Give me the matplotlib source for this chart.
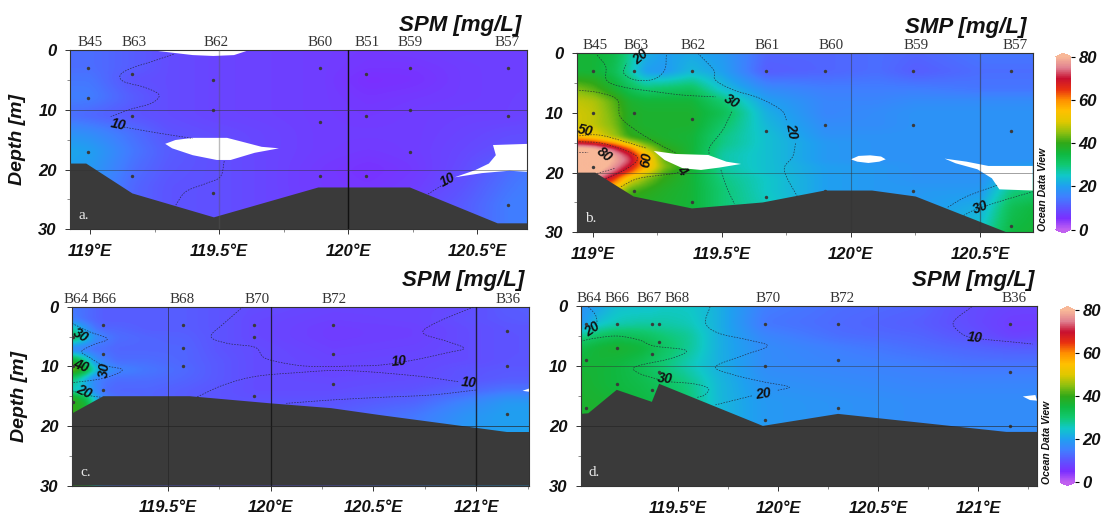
import numpy as np
import matplotlib
matplotlib.use("Agg")
import matplotlib.pyplot as plt
from matplotlib.colors import LinearSegmentedColormap, Normalize
from matplotlib.cm import ScalarMappable

W, H = 1101, 515

# ---------- colour scale ----------
cmap_vals = [0, 5, 10, 15, 20, 25, 30, 35, 40, 45, 50, 55, 60, 65, 70, 75, 80]
cmap_cols = ['#c060f0', '#7b2fff', '#5c55ff', '#3f80ff', '#1fa0f0', '#10c8c8', '#10c870',
             '#10b840', '#30a818', '#90c010', '#e0c800', '#ffc000', '#ff9000', '#e83010',
             '#c81030', '#e08090', '#f8b898']

# ---------- panel a ----------
a_lons = [118.92, 119.0, 119.17, 119.3, 119.48, 119.7, 119.9, 120.08, 120.25, 120.45, 120.63, 120.7]
a_deps = [0, 3, 5, 8, 11, 14, 17, 20, 23, 26, 30]
a_vals = [[13, 13, 11, 9, 8, 7.5, 7, 6.5, 7, 7.5, 7.5, 7.5],
          [13, 13, 11, 9, 8, 7.5, 7, 6, 6, 7, 7.5, 7.5],
          [14, 14, 9.5, 9, 8, 7.5, 7, 5, 5.5, 7, 7.5, 7.5],
          [15, 15, 11, 9, 8, 7.5, 7, 6, 6.5, 7, 7.5, 7.5],
          [13, 12, 10, 9, 8, 7.5, 7, 6.5, 7, 7.5, 7.5, 8],
          [18, 17, 13, 10, 9, 8, 7, 7, 7, 8, 9, 9],
          [21, 20, 14, 11, 9.5, 8, 7, 6.5, 7, 8.5, 10, 10],
          [20, 19, 13, 10.5, 9.5, 8, 6.5, 5.5, 6.5, 9, 13, 14],
          [19, 18, 12, 10, 9.5, 8, 6.5, 6, 7, 10, 14, 15],
          [18, 17, 12, 10, 9.5, 8, 7, 7, 8, 11, 15, 15],
          [18, 17, 12, 10, 9.5, 8, 7, 7, 8, 11, 15, 15]]
a_bot_lon = [118.92, 118.985, 119.164, 119.48, 119.885, 120.24, 120.58, 120.70]
a_bot_dep = [19, 19, 24, 28, 23, 23, 29, 29]
a_st_lon = [118.99, 119.164, 119.478, 119.89, 120.07, 120.24, 120.62]
a_st_dep = [[3, 8, 17], [4, 11, 21], [5, 10, 24], [3, 12, 21], [4, 11, 21], [3, 10, 17], [3, 11, 26]]
a_names = ['B45', 'B63', 'B62', 'B60', 'B51', 'B59', 'B57']
a_name_lon = [119.0, 119.17, 119.487, 119.89, 120.075, 120.24, 120.616]
a_holes = [([119.231, 119.318, 119.398, 119.478, 119.558, 119.618], [0, 0.45, 0.85, 1.0, 0.85, 0]),
           ([119.291, 119.331, 119.398, 119.531, 119.585, 119.665, 119.732, 119.638, 119.545, 119.491, 119.398, 119.318],
            [15.7, 15.06, 14.7, 14.7, 15.3, 16.2, 16.45, 17.2, 18.4, 18.4, 17.6, 16.45]),
           ([120.70, 120.562, 120.573, 120.546, 120.493, 120.413, 120.519, 120.626, 120.70],
            [15.7, 15.9, 17.6, 19, 20.1, 21.3, 20.6, 20.2, 20.4])]
a_lines = [([119.324, 119.238, 119.158, 119.117, 119.131, 119.211, 119.267, 119.238, 119.158, 119.08],
            [0.7, 1.95, 3.07, 4.18, 5.3, 6.25, 7.5, 8.9, 9.9, 11.15]),
           ([119.131, 119.251, 119.398], [12.9, 13.8, 14.8]),
           ([119.52, 119.505, 119.451, 119.371, 119.331], [18.6, 21.2, 22.3, 23.7, 26]),
           ([120.31, 120.366], [24.1, 22.6])]
a_labels = [(119.107, 12.5, '10', -12), (120.386, 21.75, '10', 28)]

# ---------- panel b ----------
b_lons = [118.94, 119.0, 119.08, 119.14, 119.2, 119.27, 119.38, 119.5, 119.67, 119.9, 120.1, 120.25, 120.5, 120.62, 120.7]
b_deps = [0, 3, 6, 8, 10, 12, 14, 15, 16, 17, 18, 19, 20, 21, 23, 26, 30]
b_vals = [[36, 36, 34, 28, 22, 20, 21, 19, 12, 12, 13, 12, 14, 14, 14],
          [36, 36, 33, 27, 20, 19, 23, 20, 11, 12, 13, 11, 13, 13, 13],
          [44, 42, 37, 33, 30, 31, 32, 24, 17, 15, 15, 15, 14, 14, 14],
          [48, 47, 42, 37, 36, 36, 36, 30, 20, 16, 16, 17, 17, 17, 17],
          [49, 48, 43, 38, 37, 37, 37, 33, 22, 16, 17, 18, 18, 18, 18],
          [49, 48, 44, 38, 37, 37, 37, 31, 23, 17, 17, 18, 18, 18, 18],
          [55, 52, 46, 40, 38, 37, 36, 29, 24, 18, 18, 18, 18, 18, 18],
          [68, 66, 58, 48, 42, 38, 36, 29, 24, 19, 18, 18, 18, 18, 18],
          [82, 80, 72, 62, 48, 40, 36, 28, 24, 19, 18, 18, 18, 18, 18],
          [85, 84, 78, 70, 56, 42, 36, 27, 24, 19, 18, 18, 18, 18, 18],
          [85, 85, 79, 73, 58, 43, 37, 27, 24, 19, 18, 18, 18, 18, 18],
          [85, 85, 77, 69, 58, 45, 37, 27, 24, 20, 19, 18, 18, 19, 20],
          [85, 82, 73, 64, 52, 42, 36, 28, 24, 20, 19, 18, 18, 20, 22],
          [80, 78, 66, 52, 45, 40, 36, 29, 25, 20, 19, 18, 18, 23, 25],
          [70, 65, 52, 42, 40, 38, 36, 30, 25, 20, 19, 19, 19, 29, 30],
          [40, 40, 38, 37, 37, 37, 36, 30, 26, 20, 19, 19, 22, 33, 35],
          [40, 40, 38, 37, 37, 37, 36, 30, 26, 20, 19, 19, 25, 35, 36]]
b_bot_lon = [118.938, 119.011, 119.159, 119.385, 119.659, 119.899, 120.082, 120.251, 120.603, 120.704]
b_bot_dep = [20, 20, 24, 26, 25, 23, 23, 24, 30, 30]
b_st_lon = [119.0, 119.159, 119.385, 119.673, 119.899, 120.241, 120.62]
b_st_dep = [[3, 10, 19], [3, 10, 23], [3, 11, 25], [3, 13, 24], [3, 12, 23], [3, 12, 23], [3, 13, 29]]
b_names = ['B45', 'B63', 'B62', 'B61', 'B60', 'B59', 'B57']
b_name_lon = [119.011, 119.169, 119.389, 119.677, 119.924, 120.251, 120.634]
b_holes = [([119.237, 119.321, 119.448, 119.518, 119.575, 119.49, 119.42, 119.349, 119.279],
            [16.37, 16.87, 17.04, 18.16, 18.55, 19.16, 19.55, 19.27, 17.88]),
           ([120, 120.03, 120.075, 120.117, 120.135, 120.11, 120.068, 120.025],
            [17.77, 17.2, 17.1, 17.3, 17.77, 18.16, 18.38, 18.16]),
           ([120.363, 120.448, 120.532, 120.704, 120.704, 120.575, 120.546, 120.49, 120.406],
            [17.65, 18.16, 18.88, 18.88, 23, 22.8, 20.95, 19.44, 18.44])]
b_lines = [([119.018, 119.051, 119.056, 119.124, 119.237, 119.349, 119.476], [0.3, 2.2, 4.6, 5.7, 6.4, 7, 7.3]),
           ([119.539, 119.504, 119.455, 119.451], [9.8, 12.85, 15.6, 17]),
           ([119.497, 119.518, 119.549], [19.55, 22.3, 25.25]),
           ([119.408, 119.469, 119.476, 119.546, 119.645, 119.73, 119.751], [0, 2.8, 4.5, 6.15, 7.5, 9.5, 11.2]),
           ([119.786, 119.775, 119.744, 119.751, 119.793], [15.1, 17.3, 19, 20.7, 24]),
           ([118.938, 119.025, 119.096, 119.107, 119.166, 119.251, 119.321], [6.15, 6.6, 7.8, 10.6, 12.85, 15.1, 16.65]),
           ([119.286, 119.279, 119.237, 119.166, 119.121, 119.131], [0.3, 2.8, 4.35, 4.47, 3.35, 1.7]),
           ([118.938, 119.025, 119.124, 119.208], [13.85, 13.7, 14.8, 15.9]),
           ([119.11, 119.18, 119.321, 119.349], [22.35, 20.95, 20.1, 19.3]),
           ([118.938, 119.039, 119.152, 119.173, 119.124, 119.046], [14.8, 15.1, 16.75, 17.9, 19.55, 21.1]),
           ([118.938, 118.983], [16.6, 16.65]),
           ([119.085, 119.046, 119.011], [19.3, 19.8, 20.2]),
           ([120.375, 120.448, 120.568], [25.8, 24, 22.07]),
           ([120.427, 120.479, 120.575, 120.704], [27.4, 26.25, 24.85, 23.2])]
b_labels = [(119.187, 0.6, '20', 40), (119.539, 8.1, '30', -30), (119.769, 13, '20', -80), (118.972, 13, '50', -12),
            (119.345, 19.7, '4', -50), (119.208, 17.8, '60', 82), (119.044, 17, '80', -38), (120.504, 25.8, '30', 22)]

# ---------- panel c ----------
c_lons = [119.04, 119.1, 119.14, 119.19, 119.25, 119.4, 119.58, 119.75, 119.92, 120.3, 120.7, 120.95, 121.15, 121.26]
c_deps = [0, 2, 3.5, 5, 7, 9, 10.5, 12, 14, 15, 16, 18, 21, 30]
c_vals = [[14, 13, 12, 11, 11, 11, 11, 10, 9, 8, 8, 9, 11, 11],
          [15, 13, 12, 11, 11, 11, 11, 10, 8.5, 7.5, 8, 9.5, 10.5, 11],
          [27, 18, 14, 12, 12, 11, 11, 10, 8.5, 7, 7.5, 9, 10, 10],
          [33, 25, 18, 15, 13, 12, 11.5, 10, 8.5, 7, 7.5, 9, 10, 10],
          [15, 14, 13, 13, 12, 12, 12, 10, 9, 7.5, 8, 9, 10, 10],
          [38, 28, 19, 15, 13, 13, 12, 10.5, 9, 8, 8.5, 9, 10, 10],
          [44, 36, 26, 20, 16, 14, 12.5, 10.5, 9, 8, 8.5, 10, 10.5, 10.5],
          [30, 22, 16, 14, 13, 13, 12, 10.5, 9, 8.5, 9, 10, 11, 11],
          [25, 22, 17, 13, 12, 12, 11, 10, 9, 9, 10, 12, 14, 14],
          [38, 32, 22, 15, 13, 12, 11, 10, 9.5, 9.5, 11, 14, 17, 17],
          [40, 36, 26, 16, 13, 12, 11, 10, 10, 10, 12, 16, 19, 19],
          [40, 38, 26, 16, 13, 12, 11, 10, 10, 11, 14, 18, 20, 20],
          [40, 38, 26, 16, 13, 12, 11, 10, 10, 11, 15, 19, 20, 20],
          [40, 38, 26, 16, 13, 12, 11, 10, 10, 11, 15, 19, 20, 20]]
c_bot_lon = [119.034, 119.186, 119.606, 120.0, 120.294, 120.529, 120.998, 121.149, 121.258]
c_bot_dep = [17.9, 15, 15, 16.2, 17, 18.15, 20.3, 21, 21]
c_st_lon = [119.04, 119.186, 119.572, 119.919, 120.302, 121.149]
c_st_dep = [[5, 10, 16], [3, 8, 14], [3, 7, 10], [3, 5, 15], [3, 8, 13], [4, 10, 18]]
c_names = ['B64', 'B66', 'B68', 'B70', 'B72', 'B36']
c_name_lon = [119.052, 119.191, 119.569, 119.933, 120.31, 121.153]
c_holes = [([121.225, 121.258, 121.258], [14.1, 13.7, 14.25])]
c_lines = [([119.034, 119.119, 119.206, 119.136, 119.081, 119.119, 119.186, 119.279, 119.186, 119.034],
            [2.8, 4.2, 5.4, 6.4, 7.5, 8.5, 9.8, 10.6, 12, 12.75]),
           ([119.034, 119.102, 119.178], [14.1, 14.8, 15.2]),
           ([119.866, 119.773, 119.71, 119.79, 119.924, 119.975, 120.126, 120.26, 120.378, 120.529, 120.696, 120.847,
             120.94, 120.864, 120.743, 120.797, 120.99],
            [0, 2.8, 5, 6.15, 6.8, 8.66, 9.8, 10.05, 9.95, 9.8, 8.94, 7.8, 7, 5.87, 4.47, 2.8, 0]),
           ([119.643, 119.773, 119.924, 120.126, 120.361, 120.696, 120.914], [15.1, 13.1, 11.7, 11.06, 10.7, 11.56, 12.57]),
           ([120.998, 120.78, 120.529, 120.294, 120.076], [13.97, 14.8, 15.2, 15.64, 16.2])]
c_labels = [(119.077, 4.75, '30', -30), (119.077, 10, '40', -20), (119.191, 10.6, '30', 85), (119.094, 14.25, '20', -25),
            (120.624, 9.2, '10', 5), (120.965, 12.7, '10', -5)]

# ---------- panel d ----------
d_lons = [119.01, 119.09, 119.19, 119.3, 119.37, 119.41, 119.55, 119.7, 119.93, 120.3, 120.7, 120.95, 121.17, 121.3]
d_deps = [0, 3, 5, 7, 10, 13, 16, 20, 30]
d_vals = [[18, 20, 24, 24, 24, 25, 25, 22, 15, 13, 12, 9, 8, 8],
          [18, 24, 26, 27, 27, 27, 26, 22, 14, 12.5, 11, 9, 7, 7],
          [28, 31, 33, 32, 31, 30, 28, 22, 16, 13, 12, 10, 7.5, 8],
          [34, 36, 37, 36, 34, 32, 28, 22, 17, 15, 13, 12, 11, 11],
          [36, 36, 35, 33, 31, 30, 26, 22, 17, 16, 15, 14, 14, 14],
          [37, 36, 35, 34, 33, 32, 29, 23, 18, 17, 16, 16, 16, 16],
          [37, 37, 36, 35, 34, 33, 30, 23, 19, 18, 17, 17, 17, 17],
          [37, 37, 36, 35, 34, 33, 30, 23, 19, 18, 17, 17, 17, 17],
          [37, 37, 36, 35, 34, 33, 30, 23, 19, 18, 17, 17, 17, 17]]
d_bot_lon = [119.013, 119.051, 119.193, 119.369, 119.405, 119.924, 120.3, 121.142, 121.295]
d_bot_dep = [18, 17.9, 14, 16, 13, 20, 18, 21, 21]
d_st_lon = [119.042, 119.193, 119.371, 119.405, 119.933, 120.3, 121.16]
d_st_dep = [[3, 9, 17], [3, 7, 13], [3, 8, 14], [3, 6, 11], [3, 10, 19], [3, 9, 17], [3, 11, 20]]
d_names = ['B64', 'B66', 'B67', 'B68', 'B70', 'B72', 'B36']
d_name_lon = [119.055, 119.196, 119.356, 119.496, 119.951, 120.318, 121.178]
d_holes = [([121.224, 121.287, 121.295, 121.26], [15.1, 14.86, 15.8, 15.7])]
d_lines = [([119.051, 119.087, 119.096], [0.17, 1.55, 2.94]),
           ([119.013, 119.087, 119.196, 119.305, 119.378, 119.524, 119.533, 119.451, 119.287, 119.305, 119.415],
            [5.9, 5.4, 5.05, 5.7, 6.7, 7.27, 7.9, 8.9, 10.15, 11.26, 12.4]),
           ([119.451, 119.578, 119.651, 119.633, 119.596], [12.65, 13, 13.75, 14.86, 15.25]),
           ([119.66, 119.638, 119.705, 119.851, 119.947, 119.833, 119.687, 119.778, 119.924, 120.055, 119.996],
            [0.17, 2.94, 4.6, 5.7, 6.7, 8.2, 10.15, 11.5, 12.65, 13.5, 14.1]),
           ([119.869, 119.687], [15, 16.5]),
           ([120.969, 120.878, 120.905, 120.96, 121.033, 121.16, 121.273], [0.17, 2.66, 4.33, 5.27, 5.6, 6, 6.38])]
d_labels = [(119.073, 3.9, '20', 35), (119.436, 12.2, '30', -5), (119.924, 14.7, '20', 8), (120.982, 5.27, '10', -5)]

titles = ['SPM [mg/L]', 'SMP [mg/L]', 'SPM [mg/L]', 'SPM [mg/L]']
panel_tags = ['a.', 'b.', 'c.', 'd.']

# ---------- drawing ----------
cmap = LinearSegmentedColormap.from_list('odv', [(v / 80, c) for v, c in zip(cmap_vals, cmap_cols)])
cmap.set_under(cmap_cols[0])
cmap.set_over(cmap_cols[-1])
norm = Normalize(0, 80)

plt.rcParams['font.family'] = ['Liberation Sans', 'DejaVu Sans']
TICK = dict(fontsize=12, fontweight='bold', fontstyle='italic', color='#111111')
fig = plt.figure(figsize=(W / 100, H / 100), dpi=100, facecolor='white')


def pix_axes(x0, x1, y0, y1):
    return fig.add_axes([x0 / W, 1 - y1 / H, (x1 - x0) / W, (y1 - y0) / H])


def gridded(lons, deps, vals, xlim, sig_y, sig_x):
    vals = np.array(vals, float)
    fx = np.linspace(xlim[0], xlim[1], 460)
    fy = np.linspace(0, 30, 180)
    tmp = np.array([np.interp(fx, lons, row) for row in vals])
    out = np.array([np.interp(fy, deps, col) for col in tmp.T]).T
    for axis, sig in ((0, sig_y), (1, sig_x)):
        k = np.exp(-0.5 * (np.arange(-12, 13) / sig) ** 2)
        k /= k.sum()
        pad = [(0, 0), (0, 0)]
        pad[axis] = (12, 12)
        out = np.apply_along_axis(lambda m: np.convolve(m, k, mode='valid'), axis, np.pad(out, pad, mode='edge'))
    return out


def smooth_line(x, y):
    """Catmull-Rom pass so traced contour lines stay curved."""
    p = np.column_stack([x, y])
    if len(p) < 3:
        return p[:, 0], p[:, 1]
    p = np.vstack([2 * p[0] - p[1], p, 2 * p[-1] - p[-2]])
    t = np.linspace(0, 1, 12, endpoint=False)[:, None]
    seg = []
    for i in range(1, len(p) - 2):
        a, b, c, d = p[i - 1], p[i], p[i + 1], p[i + 2]
        seg.append(0.5 * (2 * b + (c - a) * t + (2 * a - 5 * b + 4 * c - d) * t ** 2 + (3 * b - a - 3 * c + d) * t ** 3))
    seg.append(p[-2][None])
    s = np.vstack(seg)
    return s[:, 0], s[:, 1]


def panel(box, xlim, major, major_text, lons, deps, vals, bot_lon, bot_dep, st_lon, st_dep, names, name_lon,
          holes, lines, labels, vgrid, hgrid, title, title_xy, tag, ylabel, sig=(3.0, 5.0)):
    ax = pix_axes(*box)
    ax.imshow(gridded(lons, deps, vals, xlim, *sig), extent=[xlim[0], xlim[1], 30, 0], aspect='auto', cmap=cmap, norm=norm,
              interpolation='bilinear', zorder=1)
    for hx, hy in holes:
        ax.fill(hx, hy, color='white', lw=0, zorder=2)
    for lx, ly in lines:
        sx, sy = smooth_line(lx, ly)
        ax.plot(sx, sy, color='#222233', lw=0.5, alpha=0.85, ls=(0, (2.2, 1.8)), zorder=3)
    for lx, ly, s, rot in labels:
        ax.text(lx, ly, s, rotation=rot, ha='center', va='center', fontsize=10, fontweight='bold', fontstyle='italic',
                color='#111111', zorder=4)
    ax.fill(list(bot_lon) + [xlim[1], xlim[0]], list(bot_dep) + [30, 30], color='#3a3a3a', lw=0, zorder=5)
    ax.scatter(np.repeat(st_lon, [len(d) for d in st_dep]), np.concatenate(st_dep), s=6, color='#3a3a3a', lw=0, zorder=6)
    for v, c, lw in vgrid:
        ax.axvline(v, color=c, lw=lw, zorder=7)
    for v, c, lw in hgrid:
        ax.axhline(v, color=c, lw=lw, zorder=7)
    trans = ax.get_xaxis_transform()
    for nm, lx in zip(names, name_lon):
        ax.text(lx, 1.005, nm, transform=trans, ha='center', va='bottom', fontsize=10.8, family='Liberation Serif',
                color='#333333', clip_on=False)
    ax.text(0.018, 0.075, tag, transform=ax.transAxes, fontsize=11, family='Liberation Serif', color='#e8e8e8', zorder=8,
            va='center')
    ax.set_xlim(*xlim)
    ax.set_ylim(30, 0)
    ax.set_xticks(major)
    ax.set_xticklabels(major_text, **TICK)
    ax.set_xticks([m + 0.25 for m in major if m + 0.25 < xlim[1]], minor=True)
    ax.set_yticks([0, 10, 20, 30])
    ax.set_yticklabels(['0', '10', '20', '30'], **TICK)
    ax.set_yticks([5, 15, 25], minor=True)
    ax.tick_params(axis='both', which='major', length=3.5, width=0.7, color='#333333')
    ax.tick_params(axis='both', which='minor', length=2, width=0.6, color='#777777')
    ax.tick_params(axis='x', which='major', pad=7)
    ax.tick_params(axis='y', which='major', pad=6)
    for s in ax.spines.values():
        s.set_linewidth(0.8)
        s.set_color('#333333')
    fig.text(title_xy[0] / W, 1 - title_xy[1] / H, title, ha='right', va='baseline', fontsize=16, fontweight='bold',
             fontstyle='italic', color='#111111')
    if ylabel:
        fig.text(ylabel / W, 1 - (box[2] + box[3]) / 2 / H, 'Depth [m]', rotation=90, ha='center', va='center', fontsize=14,
                 fontweight='bold', fontstyle='italic', color='#111111')
    return ax


def lab(v):
    return [f'{x:g}°E' for x in v]


panel((70, 527.3, 50, 229.3), (118.922, 120.695), [119, 119.5, 120, 120.5], lab([119, 119.5, 120, 120.5]),
      a_lons, a_deps, a_vals, a_bot_lon, a_bot_dep, a_st_lon, a_st_dep, a_names, a_name_lon, a_holes, a_lines, a_labels,
      [(119.5, '#55555566', 1.0), (120, '#111111', 1.0)], [(10, '#33333399', 0.6), (20, '#33333388', 0.6)],
      titles[0], (521.5, 31), panel_tags[0], 18)
panel((576.5, 1032.7, 53.3, 232.3), (118.938, 120.704), [119, 119.5, 120, 120.5], lab([119, 119.5, 120, 120.5]),
      b_lons, b_deps, b_vals, b_bot_lon, b_bot_dep, b_st_lon, b_st_dep, b_names, b_name_lon, b_holes, b_lines, b_labels,
      [(120, '#33333377', 0.8), (120.5, '#33333388', 0.9)], [(20, '#33333388', 0.6)],
      titles[1], (1026.5, 33), panel_tags[1], None, sig=(1.8, 3.0))
panel((72, 529.3, 306.7, 485.7), (119.034, 121.258), [119.5, 120, 120.5, 121], lab([119.5, 120, 120.5, 121]),
      c_lons, c_deps, c_vals, c_bot_lon, c_bot_dep, c_st_lon, c_st_dep, c_names, c_name_lon, c_holes, c_lines, c_labels,
      [(119.5, '#22222299', 0.7), (120, '#111111cc', 0.9), (121, '#111111cc', 1.0)], [(20, '#222222aa', 0.7)],
      titles[2], (524, 286), panel_tags[2], 20, sig=(2.0, 3.0))
panel((580.7, 1037, 305.7, 486), (119.013, 121.295), [119.5, 120, 120.5, 121], lab([119.5, 120, 120.5, 121]),
      d_lons, d_deps, d_vals, d_bot_lon, d_bot_dep, d_st_lon, d_st_dep, d_names, d_name_lon, d_holes, d_lines, d_labels,
      [(120.5, '#33333366', 0.7)], [(10, '#33333388', 0.6), (20, '#22222299', 0.7)],
      titles[3], (1034, 286), panel_tags[3], None)

cbar_boxes = [(1055.5, 1071, 53.3, 233, 1043, 189), (1060, 1075, 306.7, 485.7, 1047, 442.5)]
for (x0, x1, y0, y1, tx, ty) in cbar_boxes:
    cax = pix_axes(x0, x1, y0, y1)
    cb = fig.colorbar(ScalarMappable(norm=norm, cmap=cmap), cax=cax, extend='both', extendfrac=0.02)
    cb.set_ticks([0, 20, 40, 60, 80])
    cb.ax.set_yticklabels(['0', '20', '40', '60', '80'], **TICK)
    cb.ax.tick_params(length=3, width=0.8, pad=2.5, direction='out')
    cb.outline.set_visible(False)
    fig.text(tx / W, 1 - ty / H, 'Ocean Data View', rotation=90, ha='center', va='center', fontsize=7.5,
             fontweight='bold', fontstyle='italic', color='#111111')

fig.savefig('out.png', dpi=100)
